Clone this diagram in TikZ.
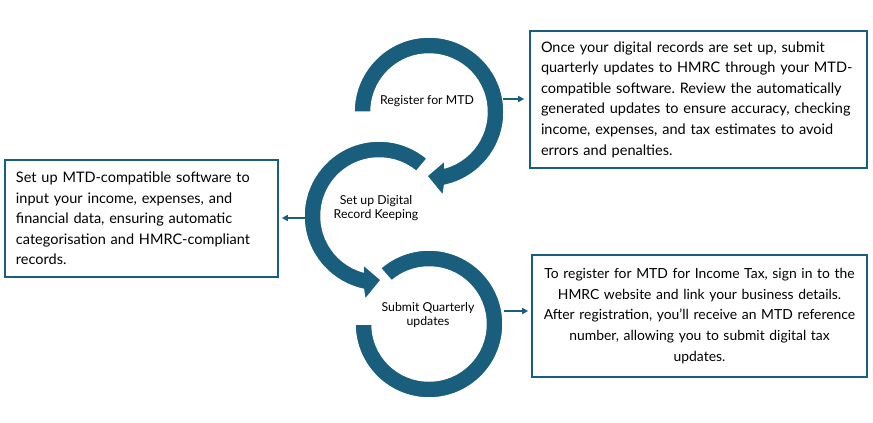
\documentclass[tikz,border=0pt]{standalone}
\usepackage{fontspec}
\setmainfont{Lato}
\usetikzlibrary{arrows.meta,calc}
\definecolor{teal1}{RGB}{26,94,125}
\frenchspacing
\begin{document}
\begin{tikzpicture}[x=1pt,y=-1pt,
  ringfill/.style={fill=teal1, draw=white, line width=1.5pt},
  box/.style={draw=teal1, line width=1.6pt, inner xsep=11pt, inner ysep=0pt, font=\fontsize{14.5}{20.6}\selectfont},
  lbl/.style={align=center, font=\fontsize{12.3}{13.6}\selectfont, inner sep=0pt},
  conn/.style={draw=teal1, line width=1.5pt, -{Triangle[width=6pt,length=6pt]}}]
\useasboundingbox (0,0) rectangle (873,423);
\coordinate (c1) at (429,112);
\coordinate (c2) at (379,216);
\coordinate (c3) at (429,324);
% ring 3
\path[ringfill] ($(c3)+(131:74pt)$) arc[start angle=131,end angle=-180,radius=74pt]
  -- ($(c3)+(180:57pt)$) arc[start angle=-180,end angle=131,radius=57pt] -- cycle;
% ring 2
\path[ringfill] ($(c2)+(50:75pt)$) arc[start angle=50,end angle=258,radius=75pt]
  -- ($(c2)+(260.5:85pt)$) -- ($(c2)+(272:64pt)$) -- ($(c2)+(252:51pt)$)
  -- ($(c2)+(254:58pt)$) arc[start angle=254,end angle=50,radius=58pt] -- cycle;
% ring 1
\path[ringfill] ($(c1)+(180:75pt)$) arc[start angle=180,end angle=-78,radius=75pt]
  -- ($(c1)+(-80.5:85pt)$) -- ($(c1)+(-92:64pt)$) -- ($(c1)+(-72:51pt)$)
  -- ($(c1)+(-74:58pt)$) arc[start angle=-74,end angle=180,radius=58pt] -- cycle;
% labels
\node[lbl] (l1) at (427,101) {Register for MTD};
\node[lbl] (l2) at (376,208) {Set up Digital\\Record Keeping};
\node[lbl] (l3) at (428,315) {Submit Quarterly\\updates};
% boxes
\node[box, text width=315pt, minimum height=137pt, align=left] (b1) at (698.5,99.5)
 {Once your digital records are set up, submit\\
  quarterly updates to HMRC through your MTD-\\
  compatible software. Review the automatically\\
  generated updates to ensure accuracy, checking\\
  income, expenses, and tax estimates to avoid\\
  errors and penalties.};
\node[box, text width=251pt, minimum height=117pt, align=left] (b2) at (141.5,218.5)
 {Set up MTD-compatible software to\\
  input your income, expenses, and\\
  financial data, ensuring automatic\\
  categorisation and HMRC-compliant\\
  records.};
\node[box, inner xsep=4pt, text width=327pt, minimum height=122pt, align=center,
      font=\fontsize{13.9}{20.6}\selectfont] (b3) at (699.5,316)
 {To register for MTD for Income Tax, sign in to the\\
  HMRC website and link your business details.\\
  After registration, you'll receive an MTD reference\\
  number, allowing you to submit digital tax\\
  updates.};
% connectors
\coordinate (p1) at (503,99);
\coordinate (p2) at (305,218);
\coordinate (p3) at (504,311);
\draw[conn, shorten >=5pt] (p1) -- (p1 -| b1.west);
\draw[conn, shorten >=3pt] (p2) -- (p2 -| b2.east);
\draw[conn, shorten >=3pt] (p3) -- (p3 -| b3.west);
\end{tikzpicture}
\end{document}
